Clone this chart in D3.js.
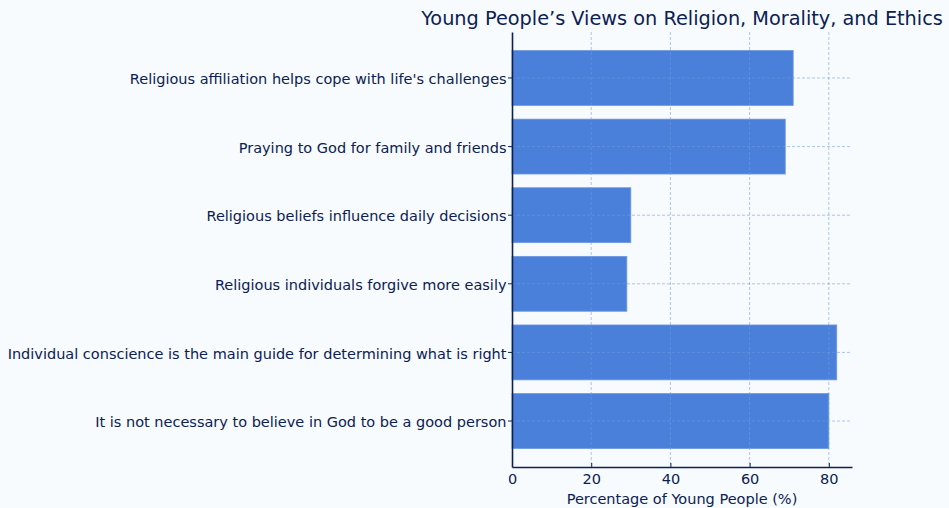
<!DOCTYPE html>
<html>
<head>
<meta charset="utf-8">
<script src="https://cdn.jsdelivr.net/npm/d3@7"></script>
<style>
  html, body { margin: 0; padding: 0; background: #f8fbfe; }
  svg { display: block; font-family: "DejaVu Sans", sans-serif; }
</style>
</head>
<body>
<div id="chart"></div>
<script>
// Survey statements, top to bottom
const statements = [
  "Religious affiliation helps cope with life's challenges",
  "Praying to God for family and friends",
  "Religious beliefs influence daily decisions",
  "Religious individuals forgive more easily",
  "Individual conscience is the main guide for determining what is right",
  "It is not necessary to believe in God to be a good person"
];
const percentages = [71, 69, 30, 29, 82, 80];
const xTicks = [0, 20, 40, 60, 80];

const chartTitle = "Young People\u2019s Views on Religion, Morality, and Ethics";
const xLabel = "Percentage of Young People (%)";

const W = 949, H = 508;
const margin = { top: 32, right: 97, bottom: 41, left: 512 };
const width = W - margin.left - margin.right;
const height = H - margin.top - margin.bottom;

const navy = "#0b2153";
const barColor = "#4a80da";
const gridColor = "#6f9be0";

const svg = d3.select("#chart").append("svg")
  .attr("width", W)
  .attr("height", H);

svg.append("rect")
  .attr("width", W).attr("height", H)
  .attr("fill", "#f8fbfe");

const g = svg.append("g")
  .attr("transform", `translate(${margin.left},${margin.top})`);

const x = d3.scaleLinear()
  .domain([0, d3.max(percentages) * 1.047])
  .range([0, width]);

const y = d3.scaleBand()
  .domain(statements)
  .range([0, height])
  .paddingInner(0.2)
  .paddingOuter(0.27);

// bars
g.selectAll("rect.bar")
  .data(statements)
  .join("rect")
  .attr("class", "bar")
  .attr("x", 0)
  .attr("y", d => y(d))
  .attr("width", (d, i) => x(percentages[i]))
  .attr("height", y.bandwidth())
  .attr("fill", barColor)
  .attr("stroke", "#6d98e2")
  .attr("stroke-width", 0.8);

// grid drawn over bars
g.append("g")
  .selectAll("line")
  .data(xTicks.slice(1))
  .join("line")
  .attr("x1", d => x(d)).attr("x2", d => x(d))
  .attr("y1", 0).attr("y2", height)
  .attr("stroke", gridColor)
  .attr("stroke-opacity", 0.7)
  .attr("stroke-width", 0.8)
  .attr("stroke-dasharray", "3,2");

g.append("g")
  .selectAll("line")
  .data(statements)
  .join("line")
  .attr("x1", 0).attr("x2", width)
  .attr("y1", d => y(d) + y.bandwidth() / 2)
  .attr("y2", d => y(d) + y.bandwidth() / 2)
  .attr("stroke", gridColor)
  .attr("stroke-opacity", 0.7)
  .attr("stroke-width", 0.8)
  .attr("stroke-dasharray", "3,2");

// axes
const xAxis = g.append("g")
  .attr("transform", `translate(0,${height})`)
  .call(d3.axisBottom(x).tickValues(xTicks).tickSizeInner(-4).tickSizeOuter(0).tickPadding(7));

const yAxis = g.append("g")
  .call(d3.axisLeft(y).tickSizeInner(4).tickSizeOuter(0).tickPadding(1.5));

[xAxis, yAxis].forEach(ax => {
  ax.select(".domain").attr("stroke", navy).attr("stroke-width", 1.6);
  ax.selectAll(".tick line").attr("stroke", navy).attr("stroke-width", 1);
  ax.selectAll("text")
    .attr("fill", navy)
    .attr("font-size", "14.5px")
    .attr("font-family", "DejaVu Sans, sans-serif");
});
yAxis.selectAll("text").attr("dy", "0.42em");

// title
svg.append("text")
  .attr("x", margin.left + width / 2)
  .attr("y", 25)
  .attr("text-anchor", "middle")
  .attr("fill", navy)
  .attr("font-size", "19.3px")
  .text(chartTitle);

// x axis label
svg.append("text")
  .attr("x", margin.left + width / 2)
  .attr("y", 504)
  .attr("text-anchor", "middle")
  .attr("fill", navy)
  .attr("font-size", "14.5px")
  .text(xLabel);
</script>
</body>
</html>
